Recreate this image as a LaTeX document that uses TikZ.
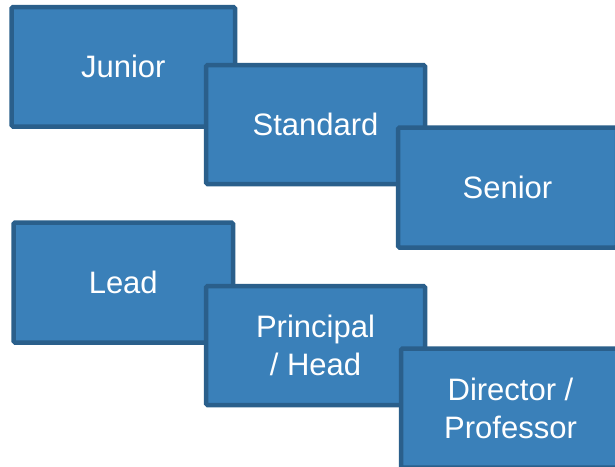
\documentclass[tikz,border=0pt]{standalone}
\usepackage{fontspec}
\setmainfont{Liberation Sans}
\definecolor{boxfill}{RGB}{58,128,185}
\definecolor{boxline}{RGB}{42,95,139}
\begin{document}
\begin{tikzpicture}[x=1pt,y=-1pt,
  stepbox/.style={draw=boxline, fill=boxfill, line width=4.5pt, rounded corners=1.5pt,
    text=white, align=center, inner sep=0pt, font=\fontsize{31}{38}\selectfont}]
\useasboundingbox (0,0) rectangle (615,466);
\node[stepbox, minimum width=223.5pt, minimum height=119.5pt] (junior) at (123.25,66.75) {Junior};
\node[stepbox, minimum width=219pt, minimum height=119pt] (standard) at (315.5,124.5) {Standard};
\node[stepbox, minimum width=219pt, minimum height=120pt] (senior) at (507.5,187.5) {Senior};
\node[stepbox, minimum width=219.5pt, minimum height=120pt] (lead) at (123.25,282.5) {Lead};
\node[stepbox, minimum width=219pt, minimum height=119pt] (principal) at (315.5,345.5) {Principal\\ / Head};
\node[stepbox, minimum width=219pt, minimum height=119pt] (director) at (510.5,408) {Director /\\Professor};
\end{tikzpicture}
\end{document}
